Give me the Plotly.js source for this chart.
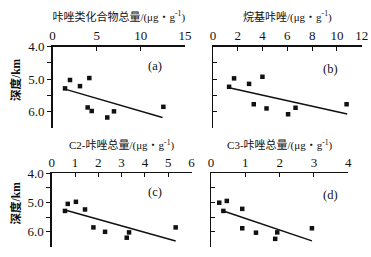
<!DOCTYPE html>
<html><head><meta charset="utf-8">
<script src="https://cdn.plot.ly/plotly-3.0.1.min.js"></script>
<style>html,body{margin:0;padding:0;background:#fff}#c{width:371px;height:257px}</style>
</head><body><div id="c"></div>
<script>
// Panel (a): total carbazoles
const aX = [1.42, 1.98, 3.11, 4.17, 3.98, 4.44, 6.2, 6.96, 12.55];
const aY = [5.29, 5.03, 5.22, 4.97, 5.88, 5.99, 6.19, 6.0, 5.86];
const aFitX = [1.5, 12.45];
const aFitY = [5.32, 6.19];
// Panel (b): alkyl carbazoles
const bX = [1.30, 1.70, 2.91, 3.99, 3.29, 4.32, 6.06, 6.66, 10.78];
const bY = [5.24, 4.98, 5.15, 4.93, 5.78, 5.91, 6.09, 5.89, 5.78];
const bFitX = [1.3, 10.83];
const bFitY = [5.27, 6.08];
// Panel (c): C2 carbazoles
const cX = [0.57, 0.69, 1.04, 1.43, 1.79, 2.29, 3.22, 3.32, 5.32];
const cY = [5.29, 5.05, 4.98, 5.24, 5.85, 6.0, 6.2, 6.02, 5.85];
const cFitX = [0.57, 5.32];
const cFitY = [5.26, 6.31];
// Panel (d): C3 carbazoles
const dX = [0.24, 0.46, 0.36, 0.91, 0.91, 1.31, 1.87, 1.93, 2.94];
const dY = [5.01, 4.95, 5.29, 5.22, 5.88, 6.03, 6.24, 6.02, 5.88];
const dFitX = [0.36, 2.94];
const dFitY = [5.29, 6.31];

const titles = ["咔唑类化合物总量/(μg・g<sup>-1</sup>)", "烷基咔唑/(μg・g<sup>-1</sup>)", "C2-咔唑总量/(μg・g<sup>-1</sup>)", "C3-咔唑总量/(μg・g<sup>-1</sup>)"];
const labels = ["(a)", "(b)", "(c)", "(d)"];
const xRanges = [[0, 15], [0, 12], [0, 6], [0, 4]];
const xDticks = [5, 2, 1, 1];
const yTickVals = [4, 4.5, 5, 5.5, 6];
const yTickText = ["4.0", "", "5.0", "", "6.0"];
const yTitle = "深度/km";

const W = 371, H = 257;
const boxes = [ // [left, right, top, bottom] in px
  [52.5, 185, 46.7, 127.5],
  [213, 361.7, 46.7, 127.5],
  [51.7, 191.5, 173, 246.5],
  [211, 348.3, 173, 246.5]
];
const labelPos = [[0.774, 0.761], [0.787, 0.724], [0.739, 0.746], [0.867, 0.70]];
const serif = "Liberation Serif, Noto Sans CJK SC, serif";
const sets = [[aX, aY, aFitX, aFitY], [bX, bY, bFitX, bFitY], [cX, cY, cFitX, cFitY], [dX, dY, dFitX, dFitY]];

const data = [];
const layout = {
  width: W, height: H, margin: {l: 0, r: 0, t: 0, b: 0},
  paper_bgcolor: "#fff", plot_bgcolor: "#fff", showlegend: false,
  font: {family: serif, color: "#111", size: 12},
  annotations: []
};
sets.forEach((s, i) => {
  const n = i + 1;
  const xa = n === 1 ? "x" : "x" + n, ya = n === 1 ? "y" : "y" + n;
  const xk = n === 1 ? "xaxis" : "xaxis" + n, yk = n === 1 ? "yaxis" : "yaxis" + n;
  data.push({x: s[0], y: s[1], xaxis: xa, yaxis: ya, mode: "markers", type: "scatter",
    marker: {symbol: "square", size: 4.5, color: "#111"}, cliponaxis: false});
  data.push({x: s[2], y: s[3], xaxis: xa, yaxis: ya, mode: "lines", type: "scatter",
    line: {color: "#111", width: 1.5}});
  const b = boxes[i];
  layout[xk] = {domain: [b[0] / W, b[1] / W], anchor: ya, side: "top", range: xRanges[i],
    dtick: xDticks[i], tick0: 0, showgrid: false, zeroline: false, showline: true, linecolor: "#111",
    linewidth: 1.3, ticks: "inside", ticklen: 4, tickcolor: "#111",
    tickfont: {family: serif, size: 13, color: "#111"},
    title: {text: titles[i], font: {family: serif, size: 11, color: "#111"}, standoff: i >= 2 ? 2 : 4}};
  layout[yk] = {domain: [1 - b[3] / H, 1 - b[2] / H], anchor: xa, range: [6.5, 4.0],
    tickvals: yTickVals, ticktext: yTickText, showticklabels: (i % 2 === 0),
    showgrid: false, zeroline: false, showline: true, linecolor: "#111", linewidth: 1.3,
    ticks: (i % 2 === 0) ? "outside" : "inside", ticklen: 4, tickcolor: "#111",
    tickfont: {family: serif, size: 13, color: "#111"}};
  layout.annotations.push({text: labels[i], xref: xa + " domain", yref: ya + " domain",
    x: labelPos[i][0], y: labelPos[i][1], xanchor: "center", yanchor: "middle", showarrow: false,
    font: {family: serif, size: 12.5, color: "#111"}});
  if (i % 2 === 0) {
    layout.annotations.push({text: "<b>" + yTitle + "</b>", xref: "paper", yref: ya + " domain",
      x: 15 / W, y: 0.6, xanchor: "center", yanchor: "middle", textangle: -90,
      showarrow: false, font: {family: serif, size: 11.5, color: "#111"}});
  }
});
Plotly.newPlot("c", data, layout, {staticPlot: true, displayModeBar: false});
</script></body></html>
